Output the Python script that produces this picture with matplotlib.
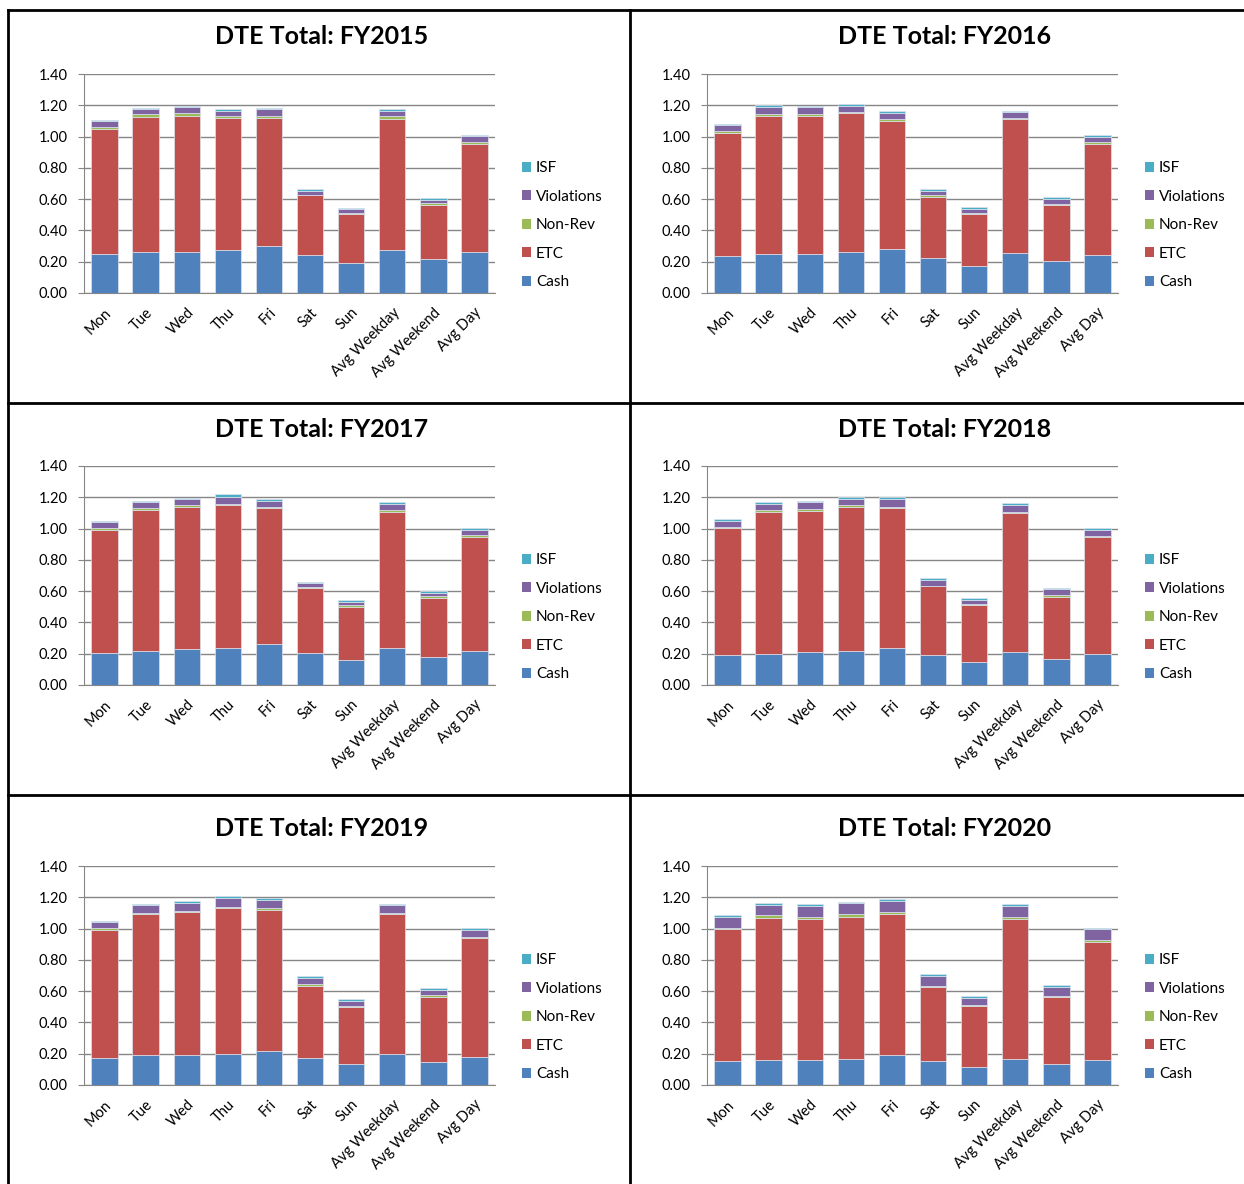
import matplotlib
matplotlib.use("Agg")
import matplotlib.pyplot as plt
from matplotlib.lines import Line2D
from matplotlib.patches import Patch
import numpy as np

plt.rcParams['font.family'] = ['Lato', 'DejaVu Sans']

years = ["FY2015", "FY2016", "FY2017", "FY2018", "FY2019", "FY2020"]
days = ["Mon", "Tue", "Wed", "Thu", "Fri", "Sat", "Sun",
        "Avg Weekday", "Avg Weekend", "Avg Day"]

# stacked segment heights, one row per fiscal year
cash = [
    [0.250, 0.265, 0.265, 0.275, 0.300, 0.240, 0.190, 0.275, 0.215, 0.260],
    [0.235, 0.250, 0.250, 0.265, 0.280, 0.225, 0.172, 0.257, 0.202, 0.242],
    [0.204, 0.219, 0.230, 0.236, 0.262, 0.204, 0.159, 0.236, 0.180, 0.219],
    [0.193, 0.201, 0.208, 0.216, 0.238, 0.193, 0.146, 0.208, 0.169, 0.201],
    [0.172, 0.191, 0.191, 0.198, 0.219, 0.172, 0.133, 0.198, 0.150, 0.178],
    [0.153, 0.159, 0.159, 0.166, 0.189, 0.153, 0.114, 0.166, 0.135, 0.159],
]
etc = [
    [0.800, 0.860, 0.865, 0.845, 0.820, 0.385, 0.317, 0.836, 0.350, 0.693],
    [0.789, 0.879, 0.879, 0.883, 0.821, 0.390, 0.336, 0.854, 0.362, 0.708],
    [0.790, 0.902, 0.906, 0.913, 0.867, 0.417, 0.341, 0.868, 0.378, 0.730],
    [0.811, 0.904, 0.905, 0.921, 0.893, 0.437, 0.368, 0.891, 0.396, 0.743],
    [0.822, 0.902, 0.913, 0.934, 0.900, 0.461, 0.367, 0.893, 0.413, 0.760],
    [0.845, 0.908, 0.901, 0.909, 0.903, 0.475, 0.389, 0.894, 0.428, 0.757],
]
non_rev = [
    [0.010, 0.017, 0.019, 0.011, 0.013, 0.004, 0.006, 0.018, 0.010, 0.013],
    [0.010, 0.017, 0.017, 0.009, 0.009, 0.011, 0.004, 0.008, 0.008, 0.013],
    [0.009, 0.011, 0.017, 0.011, 0.011, 0.004, 0.009, 0.017, 0.009, 0.009],
    [0.009, 0.011, 0.009, 0.011, 0.010, 0.004, 0.004, 0.010, 0.011, 0.009],
    [0.009, 0.006, 0.008, 0.006, 0.010, 0.011, 0.005, 0.008, 0.010, 0.011],
    [0.008, 0.017, 0.011, 0.017, 0.011, 0.004, 0.009, 0.011, 0.005, 0.011],
]
violations = [
    [0.039, 0.033, 0.037, 0.034, 0.043, 0.026, 0.026, 0.036, 0.022, 0.038],
    [0.039, 0.041, 0.041, 0.036, 0.043, 0.028, 0.026, 0.037, 0.030, 0.036],
    [0.036, 0.036, 0.034, 0.045, 0.039, 0.028, 0.021, 0.039, 0.023, 0.036],
    [0.038, 0.042, 0.047, 0.043, 0.050, 0.038, 0.026, 0.041, 0.036, 0.041],
    [0.036, 0.050, 0.050, 0.060, 0.056, 0.041, 0.030, 0.050, 0.037, 0.043],
    [0.067, 0.069, 0.073, 0.069, 0.071, 0.067, 0.045, 0.073, 0.060, 0.069],
]
isf = [
    [0.008, 0.006, 0.010, 0.009, 0.009, 0.011, 0.006, 0.011, 0.008, 0.007],
    [0.009, 0.013, 0.011, 0.013, 0.010, 0.011, 0.011, 0.010, 0.011, 0.009],
    [0.011, 0.011, 0.011, 0.013, 0.013, 0.008, 0.011, 0.010, 0.009, 0.011],
    [0.009, 0.011, 0.009, 0.010, 0.010, 0.011, 0.011, 0.011, 0.009, 0.010],
    [0.011, 0.011, 0.015, 0.011, 0.011, 0.013, 0.013, 0.011, 0.011, 0.011],
    [0.011, 0.010, 0.011, 0.011, 0.013, 0.011, 0.011, 0.011, 0.011, 0.010],
]

series_names = ["Cash", "ETC", "Non-Rev", "Violations", "ISF"]
series_data = [cash, etc, non_rev, violations, isf]
colors = ["#4F81BD", "#C0504D", "#9BBB59", "#8064A2", "#4BACC6"]

W, H = 1244, 1184
fig = plt.figure(figsize=(W / 100, H / 100), dpi=100)


def fx(px):
    return px / W


def fy(py):
    return 1 - py / H


# panel geometry in pixels
col_left = [84, 707]
row_top = [74, 466, 866]
ax_w, ax_h = 411, 219

for i, year in enumerate(years):
    r, c = divmod(i, 2)
    left, top = col_left[c], row_top[r]
    ax = fig.add_axes([fx(left), fy(top + ax_h), ax_w / W, ax_h / H])
    x = np.arange(len(days))
    bottom = np.zeros(len(days))
    for name, data, col in zip(series_names, series_data, colors):
        vals = np.array(data[i])
        ax.bar(x, vals, 0.64, bottom=bottom, color=col, label=name,
               edgecolor="#dde3ee", linewidth=0.5, zorder=3)
        bottom += vals
    ax.set_ylim(0, 1.4)
    ax.set_xlim(-0.5, len(days) - 0.5)
    ax.set_yticks(np.arange(0, 1.41, 0.2))
    ax.set_yticklabels([f"{v:.2f}" for v in np.arange(0, 1.41, 0.2)],
                       fontsize=10.5)
    ax.set_xticks(x)
    ax.set_xticklabels(days, rotation=45, ha="right", rotation_mode="anchor",
                       fontsize=10.5)
    ax.tick_params(axis="x", length=0, pad=9)
    ax.tick_params(axis="y", length=4, color="#868686", pad=8)
    ax.grid(axis="y", color="#868686", linewidth=1, zorder=0)
    ax.set_axisbelow(True)
    for s in ["top", "right"]:
        ax.spines[s].set_visible(False)
    for s in ["left", "bottom"]:
        ax.spines[s].set_color("#868686")
    fig.text(fx(left + ax_w / 2 + 32), fy(top - 37), f"DTE Total: {year}",
             ha="center", va="center", fontsize=18, fontweight="bold")
    handles = [Patch(facecolor=col, edgecolor="none") for col in colors][::-1]
    labels = series_names[::-1]
    fig.legend(handles, labels, loc="upper left",
               bbox_to_anchor=(fx(left + 432), fy(top + 81)),
               frameon=False, fontsize=11, handlelength=0.6, handleheight=0.6,
               handletextpad=0.3, labelspacing=0.95, borderaxespad=0)

# table borders
lw = 2
for px in [8, 630]:
    fig.add_artist(Line2D([fx(px), fx(px)], [fy(10), 0], color="black", lw=lw))
for py in [10, 403, 795]:
    fig.add_artist(Line2D([fx(8), 1], [fy(py), fy(py)], color="black", lw=lw))

fig.savefig("out.png", dpi=100)
